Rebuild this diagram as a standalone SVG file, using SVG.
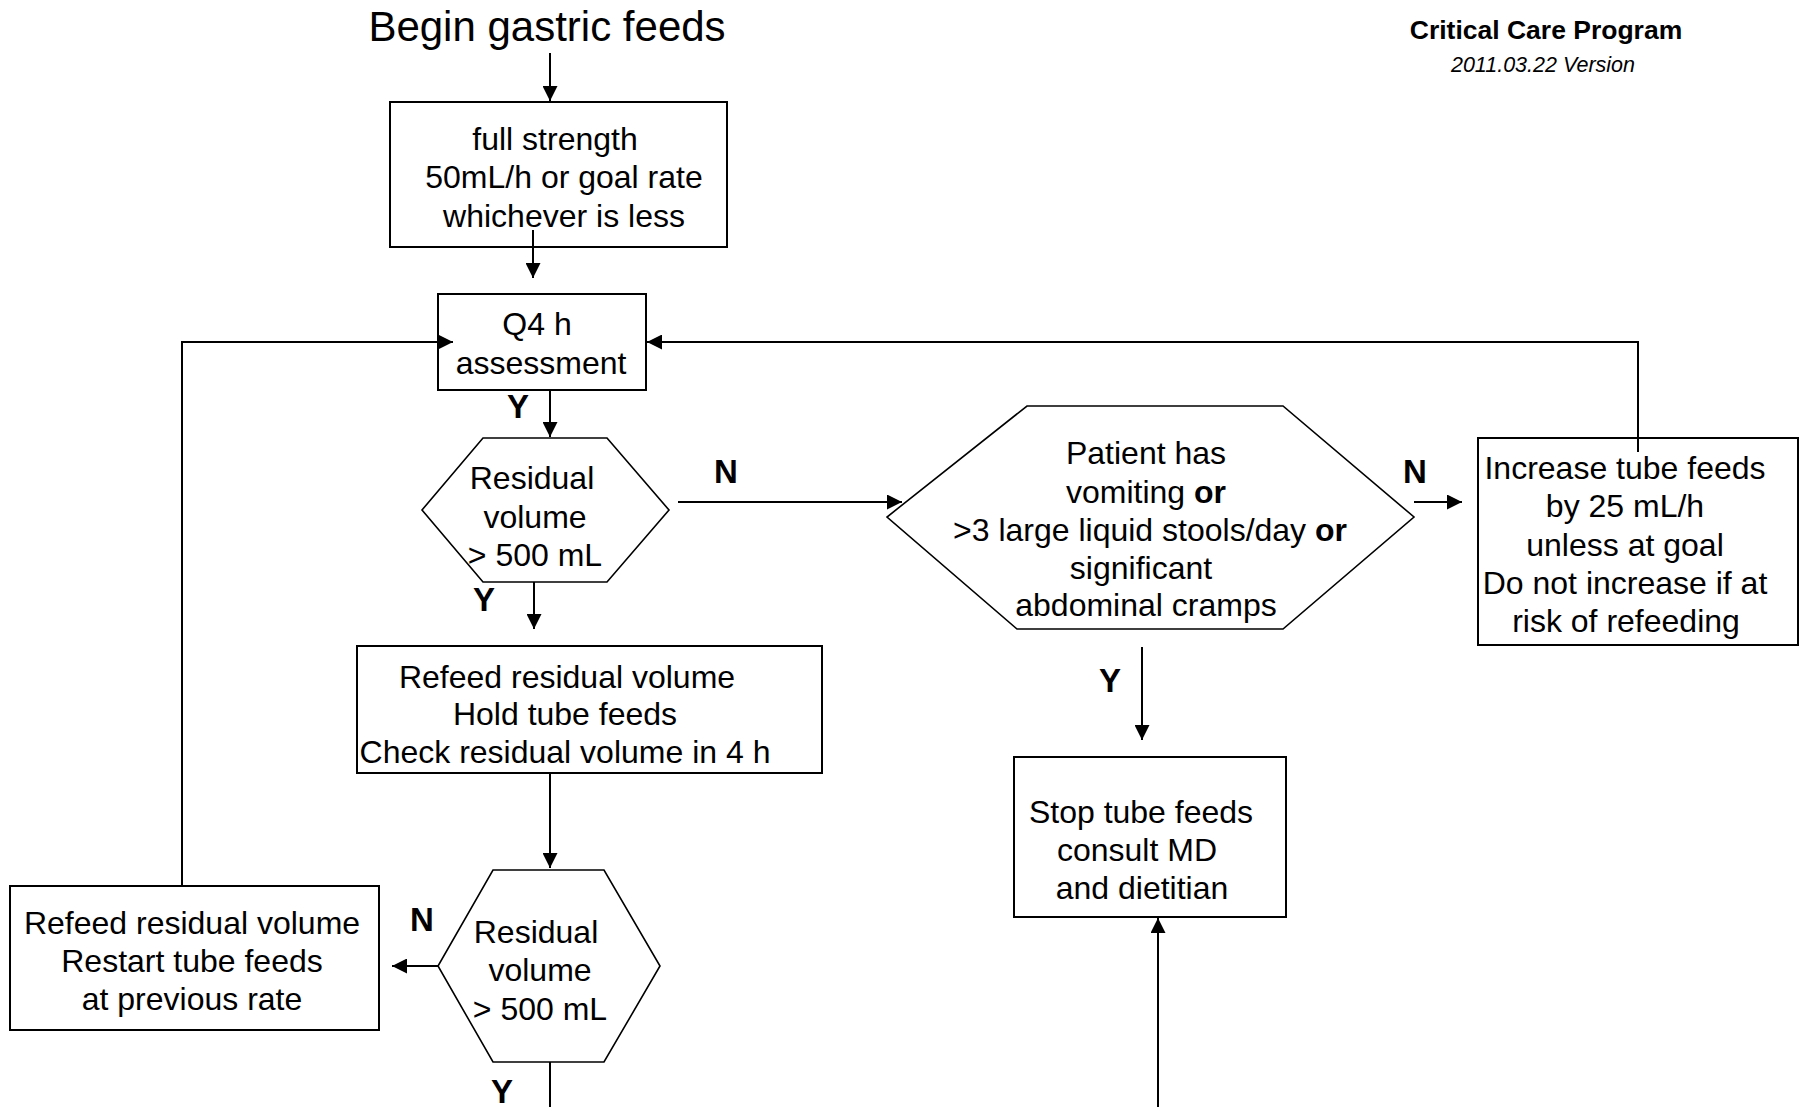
<svg xmlns="http://www.w3.org/2000/svg" width="1802" height="1107" viewBox="0 0 1802 1107">
<style>
  text { font-family: "Liberation Sans", Arial, sans-serif; fill: #000; }
  .t { font-size: 32px; text-anchor: middle; }
  .lbl { font-size: 33px; font-weight: bold; text-anchor: middle; }
  .box { fill: #fff; stroke: #000; stroke-width: 2; }
  .hex { fill: #fff; stroke: #000; stroke-width: 1.6; }
  .conn path { fill: none; stroke: #000; stroke-width: 2; }
  .arr { marker-end: url(#ah); }
</style>
<defs>
  <marker id="ah" viewBox="0 0 10 10" refX="10" refY="5" markerWidth="15" markerHeight="15" markerUnits="userSpaceOnUse" orient="auto">
    <path d="M0,0 L10,5 L0,10 z" fill="#000"/>
  </marker>
</defs>
<rect width="1802" height="1107" fill="#fff"/>

<g id="header">
  <text x="547" y="41" style="font-size:42px;text-anchor:middle">Begin gastric feeds</text>
  <text x="1546" y="39" style="font-size:26.5px;font-weight:bold;text-anchor:middle">Critical Care Program</text>
  <text x="1543" y="72" style="font-size:21.5px;font-style:italic;text-anchor:middle">2011.03.22 Version</text>
</g>

<g id="n-start">
  <rect class="box" x="390" y="102" width="337" height="145"/>
  <text class="t" x="555" y="150">full strength</text>
  <text class="t" x="564" y="188">50mL/h or goal rate</text>
  <text class="t" x="564" y="227">whichever is less</text>
</g>

<g id="n-q4">
  <rect class="box" x="438" y="294" width="208" height="96"/>
  <text class="t" x="537" y="335">Q4 h</text>
  <text class="t" x="541" y="374">assessment</text>
</g>

<g id="n-res1">
  <polygon class="hex" points="483,438 607,438 669,510 607,582 483,582 422,510"/>
  <text class="t" x="532" y="489">Residual</text>
  <text class="t" x="535" y="528">volume</text>
  <text class="t" x="535" y="566">&gt; 500 mL</text>
</g>

<g id="n-symptoms">
  <polygon class="hex" points="1027,406 1283,406 1414,517 1283,629 1017,629 887,517"/>
  <text class="t" x="1146" y="464">Patient has</text>
  <text class="t" x="1146" y="503">vomiting <tspan font-weight="bold">or</tspan></text>
  <text class="t" x="1150" y="541">&gt;3 large liquid stools/day <tspan font-weight="bold">or</tspan></text>
  <text class="t" x="1141" y="579">significant</text>
  <text class="t" x="1146" y="616">abdominal cramps</text>
</g>

<g id="n-increase">
  <rect class="box" x="1478" y="438" width="320" height="207"/>
  <text class="t" x="1625" y="479">Increase tube feeds</text>
  <text class="t" x="1625" y="517">by 25 mL/h</text>
  <text class="t" x="1625" y="556">unless at goal</text>
  <text class="t" x="1625" y="594">Do not increase if at</text>
  <text class="t" x="1626" y="632">risk of refeeding</text>
</g>

<g id="n-hold">
  <rect class="box" x="357" y="646" width="465" height="127"/>
  <text class="t" x="567" y="688">Refeed residual volume</text>
  <text class="t" x="565" y="725">Hold tube feeds</text>
  <text class="t" x="565" y="763">Check residual volume in 4 h</text>
</g>

<g id="n-stop">
  <rect class="box" x="1014" y="757" width="272" height="160"/>
  <text class="t" x="1141" y="823">Stop tube feeds</text>
  <text class="t" x="1137" y="861">consult MD</text>
  <text class="t" x="1142" y="899">and dietitian</text>
</g>

<g id="n-res2">
  <polygon class="hex" points="493,870 604,870 660,966 604,1062 493,1062 438,966"/>
  <text class="t" x="536" y="943">Residual</text>
  <text class="t" x="540" y="981">volume</text>
  <text class="t" x="540" y="1020">&gt; 500 mL</text>
</g>

<g id="n-restart">
  <rect class="box" x="10" y="886" width="369" height="144"/>
  <text class="t" x="192" y="934">Refeed residual volume</text>
  <text class="t" x="192" y="972">Restart tube feeds</text>
  <text class="t" x="192" y="1010">at previous rate</text>
</g>

<g id="connectors" class="conn">
  <path class="arr" d="M550,53 V101"/>
  <path class="arr" d="M533,230 V278"/>
  <path class="arr" d="M550,390 V437"/>
  <path class="arr" d="M534,582 V629"/>
  <path class="arr" d="M678,502 H902"/>
  <path class="arr" d="M1414,502 H1462"/>
  <path class="arr" d="M1638,452 V342 H647"/>
  <path class="arr" d="M1142,647 V740"/>
  <path class="arr" d="M1158,1107 V918"/>
  <path class="arr" d="M550,773 V868"/>
  <path class="arr" d="M438,966 H392"/>
  <path class="arr" d="M182,886 V342 H453"/>
  <path d="M550,1062 V1107"/>
</g>

<g id="labels">
  <text class="lbl" x="518" y="418">Y</text>
  <text class="lbl" x="484" y="611">Y</text>
  <text class="lbl" x="726" y="483">N</text>
  <text class="lbl" x="1415" y="483">N</text>
  <text class="lbl" x="1110" y="692">Y</text>
  <text class="lbl" x="422" y="931">N</text>
  <text class="lbl" x="502" y="1103">Y</text>
</g>
</svg>
